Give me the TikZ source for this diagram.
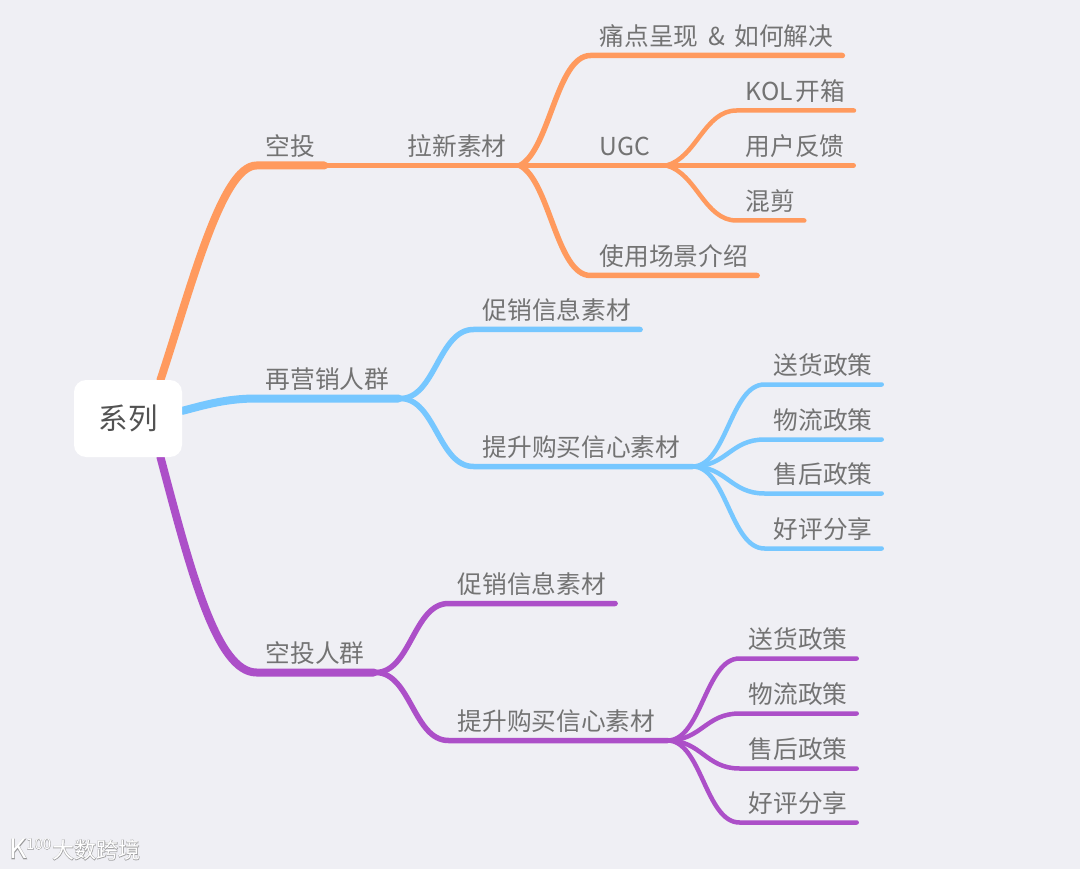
\documentclass[tikz,border=0pt]{standalone}
\usepackage{fontspec}
\usepackage{xcolor}
\usepackage{tikz}
\usetikzlibrary{backgrounds,positioning}
\newfontfamily\cjk{Noto Sans CJK SC}
\newfontfamily\cjkhalo[FakeBold=4]{Noto Sans CJK SC}
\definecolor{bgcol}{HTML}{EFEFF4}
\definecolor{orangeline}{HTML}{FF9A5E}
\definecolor{blueline}{HTML}{76C7FF}
\definecolor{purpleline}{HTML}{AC4FC8}
\tikzset{
    topic/.style={anchor=south west, xshift=1.5pt, yshift=-0.5pt, inner xsep=9pt, inner ysep=9.5pt, text height=20pt, text depth=0pt, text=black!55, font=\cjk\fontsize{24.7}{30}\selectfont},
    root/.style={fill=white, rounded corners=12pt, minimum width=108pt, minimum height=77pt, inner sep=0pt, text=black!68, font=\cjk\fontsize{29.5}{34}\selectfont},
    main/.style={line width=8pt, line cap=round},
    sub/.style={line width=5.5pt, line cap=round},
    leaf/.style={line width=4.5pt, line cap=round},
    halo/.style={inner sep=0pt, anchor=west, text=black!50, opacity=0.6},
    wmark/.style={inner sep=0pt, anchor=west, text=white}
}

\begin{document}
\begin{tikzpicture}[x=1pt, y=-1pt]
    \begin{pgfonlayer}{background}
    \path[fill=bgcol, use as bounding box] (0,0) rectangle (1080,869);
    \end{pgfonlayer}
    \node[root] (xl) at (128,418.5) {系列};
    % orange
    \node[topic] (kt) at (255,165) {空投};
    \node[topic] (lx) at (397,165) {拉新素材};
    \node[topic] (td) at (589,55) {痛点呈现\hspace{4pt} \& \hspace{4pt}如何解决};
    \node[topic] (ugc) at (589,165) {UGC};
    \node[topic] (kol) at (735,110) {KOL\hspace{2.5pt}开箱};
    \node[topic] (fk) at (735,165) {用户反馈};
    \node[topic] (hj) at (735,220) {混剪};
    \node[topic] (cj) at (589,275) {使用场景介绍};
    \coordinate[right=4pt of lx.south east] (lxf);
    \coordinate[right=7pt of ugc.south east] (ugcf);
    % blue
    \node[topic] (zy) at (255,398) {再营销人群};
    \node[topic] (cx) at (472,329) {促销信息素材};
    \node[topic] (ts) at (472,466) {提升购买信心素材};
    \node[topic] (sh) at (763,384) {送货政策};
    \node[topic] (wl) at (763,439) {物流政策};
    \node[topic] (hh) at (763,493) {售后政策};
    \node[topic] (hp) at (763,548) {好评分享};
    \coordinate[right=2pt of zy.south east] (zyf);
    \coordinate[right=3pt of ts.south east] (tsf);
    % purple
    \node[topic] (rq) at (255,672) {空投人群};
    \node[topic] (cxb) at (447,603) {促销信息素材};
    \node[topic] (tsb) at (447,740) {提升购买信心素材};
    \node[topic] (shb) at (738,658) {送货政策};
    \node[topic] (wlb) at (738,713) {物流政策};
    \node[topic] (hhb) at (738,768) {售后政策};
    \node[topic] (hpb) at (738,822) {好评分享};
    \coordinate[right=2pt of rq.south east] (rqf);
    \coordinate[right=3pt of tsb.south east] (tsbf);

    \begin{pgfonlayer}{background}
    \draw[orangeline, main] (xl.50) .. controls +(30,-90) and +(-35,0) .. (kt.south west) -- (kt.south east);
    \draw[blueline, main] (xl.8) .. controls +(23,-6) and +(-30,0) .. (zy.south west) -- (zy.south east);
    \draw[purpleline, main] (xl.-50) .. controls +(30,113) and +(-40,0) .. (rq.south west) -- (rq.south east);
    \end{pgfonlayer}

    \draw[orangeline, sub] (kt.south east) -- (lx.south west) -- (lxf);
    \draw[orangeline, sub] (lxf) .. controls +(30,-15) and +(-34,0) .. (td.south west) -- (td.south east);
    \draw[orangeline, sub] (lxf) -- (ugc.south west) -- (ugcf);
    \draw[orangeline, sub] (lxf) .. controls +(30,15) and +(-34,0) .. (cj.south west) -- (cj.south east);
    \draw[orangeline, leaf] (ugcf) .. controls +(30,-8) and +(-32,0) .. (kol.south west) -- (kol.south east);
    \draw[orangeline, leaf] (ugcf) -- (fk.south west) -- (fk.south east);
    \draw[orangeline, leaf] (ugcf) .. controls +(30,8) and +(-32,0) .. (hj.south west) -- (hj.south east);

    \draw[blueline, sub] (zy.south east) -- (zyf) .. controls +(35,0) and +(-35,0) .. (cx.south west) -- (cx.south east);
    \draw[blueline, sub] (zyf) .. controls +(35,0) and +(-35,0) .. (ts.south west) -- (ts.south east) -- (tsf);
    \draw[blueline, leaf] (tsf) .. controls +(34,0) and +(-34,0) .. (sh.south west) -- (sh.south east);
    \draw[blueline, leaf] (tsf) .. controls +(34,0) and +(-34,0) .. (wl.south west) -- (wl.south east);
    \draw[blueline, leaf] (tsf) .. controls +(34,0) and +(-34,0) .. (hh.south west) -- (hh.south east);
    \draw[blueline, leaf] (tsf) .. controls +(34,0) and +(-34,0) .. (hp.south west) -- (hp.south east);

    \draw[purpleline, sub] (rq.south east) -- (rqf) .. controls +(35,0) and +(-35,0) .. (cxb.south west) -- (cxb.south east);
    \draw[purpleline, sub] (rqf) .. controls +(35,0) and +(-35,0) .. (tsb.south west) -- (tsb.south east) -- (tsbf);
    \draw[purpleline, leaf] (tsbf) .. controls +(34,0) and +(-34,0) .. (shb.south west) -- (shb.south east);
    \draw[purpleline, leaf] (tsbf) .. controls +(34,0) and +(-34,0) .. (wlb.south west) -- (wlb.south east);
    \draw[purpleline, leaf] (tsbf) .. controls +(34,0) and +(-34,0) .. (hhb.south west) -- (hhb.south east);
    \draw[purpleline, leaf] (tsbf) .. controls +(34,0) and +(-34,0) .. (hpb.south west) -- (hpb.south east);

    % watermark
    \node[halo, font=\cjkhalo\fontsize{27}{29}\selectfont] (kh) at (9,849) {K};
    \node[halo, font=\cjkhalo\fontsize{15}{17}\selectfont] (ch) at (26,844) {100};
    \node[halo, font=\cjkhalo\fontsize{22}{24}\selectfont] (dh) at (52,850) {大数跨境};
    \node[wmark, font=\cjk\fontsize{27}{29}\selectfont] (km) at (9,849) {K};
    \node[wmark, font=\cjk\fontsize{15}{17}\selectfont] (cm) at (26,844) {100};
    \node[wmark, font=\cjk\fontsize{22}{24}\selectfont] (dm) at (52,850) {大数跨境};
\end{tikzpicture}
\end{document}
